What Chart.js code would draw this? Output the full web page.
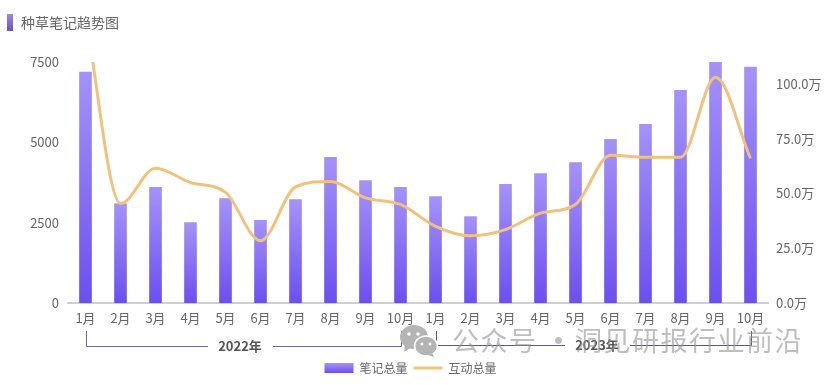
<!DOCTYPE html>
<html><head><meta charset="utf-8">
<script src="https://cdn.jsdelivr.net/npm/chart.js@4"></script>
<style>
html,body{margin:0;padding:0;background:#fff;width:837px;height:385px;overflow:hidden}
#wrap{position:relative;width:837px;height:385px;font-family:"Noto Sans CJK SC","Noto Sans",sans-serif}
canvas{position:absolute;left:0;top:0}
#bar{position:absolute;left:7px;top:14px;width:6px;height:17px;background:linear-gradient(#9c88e6,#6a50c4)}
#title{position:absolute;left:21px;top:12px;font-size:14px;line-height:20px;color:#666}
.mark{position:absolute;top:321px;font-size:27px;line-height:38px;color:rgba(150,150,150,.62);letter-spacing:1.5px;white-space:pre}
#icon{position:absolute;left:399px;top:324px}
</style></head><body>
<div id="wrap">
<canvas id="c" width="837" height="385"></canvas>
<div id="bar"></div><div id="title">种草笔记趋势图</div>
<svg id="icon" width="40" height="34" viewBox="0 0 40 34"><ellipse cx="15" cy="13" rx="14" ry="12" fill="#b4b4b4"/><path d="M6 20 L5 28 L13 23Z" fill="#b4b4b4"/><ellipse cx="27" cy="22" rx="11.5" ry="10" fill="#b4b4b4" stroke="#fff" stroke-width="1.5"/><path d="M33 29 L35 33 L29 31Z" fill="#b4b4b4"/><circle cx="10" cy="10" r="1.8" fill="#fff"/><circle cx="19" cy="10" r="1.8" fill="#fff"/><circle cx="23" cy="20" r="1.5" fill="#fff"/><circle cx="31" cy="20" r="1.5" fill="#fff"/></svg>
<div class="mark" style="left:452px">公众号</div>
<div class="mark" style="left:545px;font-weight:700">·</div>
<div class="mark" style="left:575px">洞见研报行业前沿</div>
</div>
<script>
const categories=['1月','2月','3月','4月','5月','6月','7月','8月','9月','10月','1月','2月','3月','4月','5月','6月','7月','8月','9月','10月'];
const noteTotal=[7190,3090,3600,2500,3250,2570,3220,4530,3810,3600,3310,2690,3690,4030,4370,5090,5560,6620,7500,7340];
const interactionTotal=[131,45.4,61.5,55,50.5,28.4,53,55.5,48,45,35,30.7,33.5,41,45,67.4,66.5,66.5,103,66];
const leftTicks=[0,2500,5000,7500];
const rightTicks=[0,25,50,75,100];
const yearGroups=[{label:'2022年',from:0,to:9,labelAt:240},{label:'2023年',from:10,to:19,labelAt:597}];
const font={family:'"Noto Sans CJK SC","Noto Sans",sans-serif',size:13};
const tickColor='#666';

function barGradient(ctx){
  const {chart,parsed}=ctx;
  if(!parsed||!chart.chartArea) return '#8a70f2';
  const y=chart.scales.y;
  const g=chart.ctx.createLinearGradient(0,y.getPixelForValue(parsed.y),0,y.getPixelForValue(0));
  g.addColorStop(0,'#a592f8');g.addColorStop(1,'#6c4ff0');
  return g;
}
const brackets={id:'brackets',afterDraw(chart){
  const c=chart.ctx,x=chart.scales.x;
  c.save();
  yearGroups.forEach((g,i)=>{
    const a=Math.round(x.getPixelForTick(g.from))+.5,b=Math.round(x.getPixelForTick(g.to))+.5;
    const yb=i===0?346.5:345.5;
    c.strokeStyle=i===0?'#6e6a8c':'#5a5a72';c.lineWidth=1;
    c.beginPath();
    c.moveTo(a,331);c.lineTo(a,yb);c.lineTo(g.labelAt-32,yb);
    c.moveTo(g.labelAt+33,yb);c.lineTo(b,yb);c.lineTo(b,331);
    c.stroke();
    c.fillStyle='#555';c.font='bold 13px '+font.family;c.textAlign='center';c.textBaseline='middle';
    c.fillText(g.label,g.labelAt,yb);
  });
  c.restore();
}};
new Chart(document.getElementById('c'),{
  type:'bar',
  data:{labels:categories,datasets:[
    {type:'line',label:'互动总量',data:interactionTotal,yAxisID:'y1',borderColor:'#f0c27b',borderWidth:3,pointRadius:0,cubicInterpolationMode:'monotone',order:0,pointStyle:'line'},
    {type:'bar',label:'笔记总量',data:noteTotal,yAxisID:'y',backgroundColor:barGradient,barThickness:12,order:1,pointStyle:'rect'}
  ]},
  plugins:[brackets],
  options:{
    responsive:false,animation:false,
    layout:{padding:{top:62,right:16,left:0,bottom:1}},
    scales:{
      x:{grid:{display:false,drawTicks:false},border:{display:true,color:'#cfcfd4',width:2},
         ticks:{color:tickColor,font,padding:7,maxRotation:0,autoSkip:false},
         afterFit(s){s.height=53;}},
      y:{position:'left',min:0,max:7500,grid:{display:false,drawTicks:false},border:{display:false},
         afterBuildTicks(s){s.ticks=leftTicks.map(value=>({value}));},
         ticks:{color:tickColor,font,padding:9,callback:v=>String(v)},afterFit(s){s.width=68;}},
      y1:{position:'right',min:0,max:110,grid:{display:false,drawTicks:false},border:{display:false},
         afterBuildTicks(s){s.ticks=rightTicks.map(value=>({value}));},
         ticks:{color:tickColor,font,padding:8,callback:v=>v.toFixed(1)+'万'},afterFit(s){s.width=53;}}
    },
    plugins:{
      tooltip:{enabled:false},
      legend:{position:'bottom',labels:{
        usePointStyle:true,pointStyleWidth:29,boxHeight:10,padding:6,color:'#666',font:{family:font.family,size:12},
        generateLabels(chart){
          const g=chart.ctx.createLinearGradient(0,363,0,373);g.addColorStop(0,'#a592f8');g.addColorStop(1,'#6c4ff0');
          return [
            {text:'笔记总量',fillStyle:g,strokeStyle:g,lineWidth:0,pointStyle:'rect',fontColor:'#666',datasetIndex:1},
            {text:'互动总量',fillStyle:'#f0c27b',strokeStyle:'#f0c27b',lineWidth:3,pointStyle:'line',fontColor:'#666',datasetIndex:0}
          ];
        }}}
    }
  }
});
</script>
</body></html>
